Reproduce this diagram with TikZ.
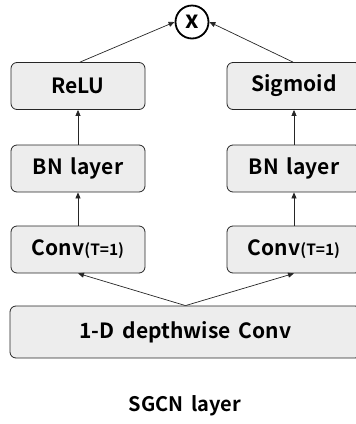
\documentclass[tikz,border=0pt]{standalone}
\usepackage{fontspec}
\setmainfont{Noto Sans CJK KR}[BoldFont={* Bold}, WordSpace=1.7]
\usetikzlibrary{arrows.meta}
\begin{document}
\begin{tikzpicture}[x=1pt,y=1pt,
  blk/.style={draw=black!85, line width=0.8pt, fill=black!7, rounded corners=6pt,
    minimum width=134pt, minimum height=47pt, inner sep=0pt,
    font=\fontsize{21}{24}\selectfont\bfseries},
  arr/.style={-{Triangle[length=6pt,width=5pt]}, line width=0.7pt, black!85},
  mult/.style={draw, circle, line width=1.8pt, minimum size=33pt, inner sep=0pt,
    font=\fontsize{24}{24}\selectfont\bfseries}]
\useasboundingbox (0,0) rectangle (356,-424);
\clip (0,0) rectangle (356,-424);

% product of the two branches
\node[mult] (x) at (192,-22) {x};

% left (ReLU) and right (Sigmoid) branches
\node[blk] (relu) at (78,-86) {ReLU};
\node[blk] (sig)  at (294,-86) {Sigmoid};
\node[blk] (bnl)  at (78,-168.5) {BN layer};
\node[blk] (bnr)  at (294,-168.5) {BN layer};
\node[blk] (cvl)  at (78,-249.5) {Conv{\fontsize{15.5}{17}\selectfont(T=1)}};
\node[blk] (cvr)  at (294,-249.5) {Conv{\fontsize{15.5}{17}\selectfont(T=1)}};

% shared input block
\node[blk, minimum width=351pt, minimum height=52pt] (dw) at (185.5,-332) {1-D depthwise Conv};

\node[font=\fontsize{20}{22}\selectfont\bfseries] (cap) at (185,-406) {SGCN layer};

\draw[arr] (dw.north) -- (cvl.south);
\draw[arr] (dw.north) -- (cvr.south);
\draw[arr] (cvl) -- (bnl);
\draw[arr] (cvr) -- (bnr);
\draw[arr] (bnl) -- (relu);
\draw[arr] (bnr) -- (sig);
\draw[arr] ([xshift=2pt]relu.north) -- (x.west);
\draw[arr] ([xshift=-1pt]sig.north) -- (x.east);
\end{tikzpicture}
\end{document}
